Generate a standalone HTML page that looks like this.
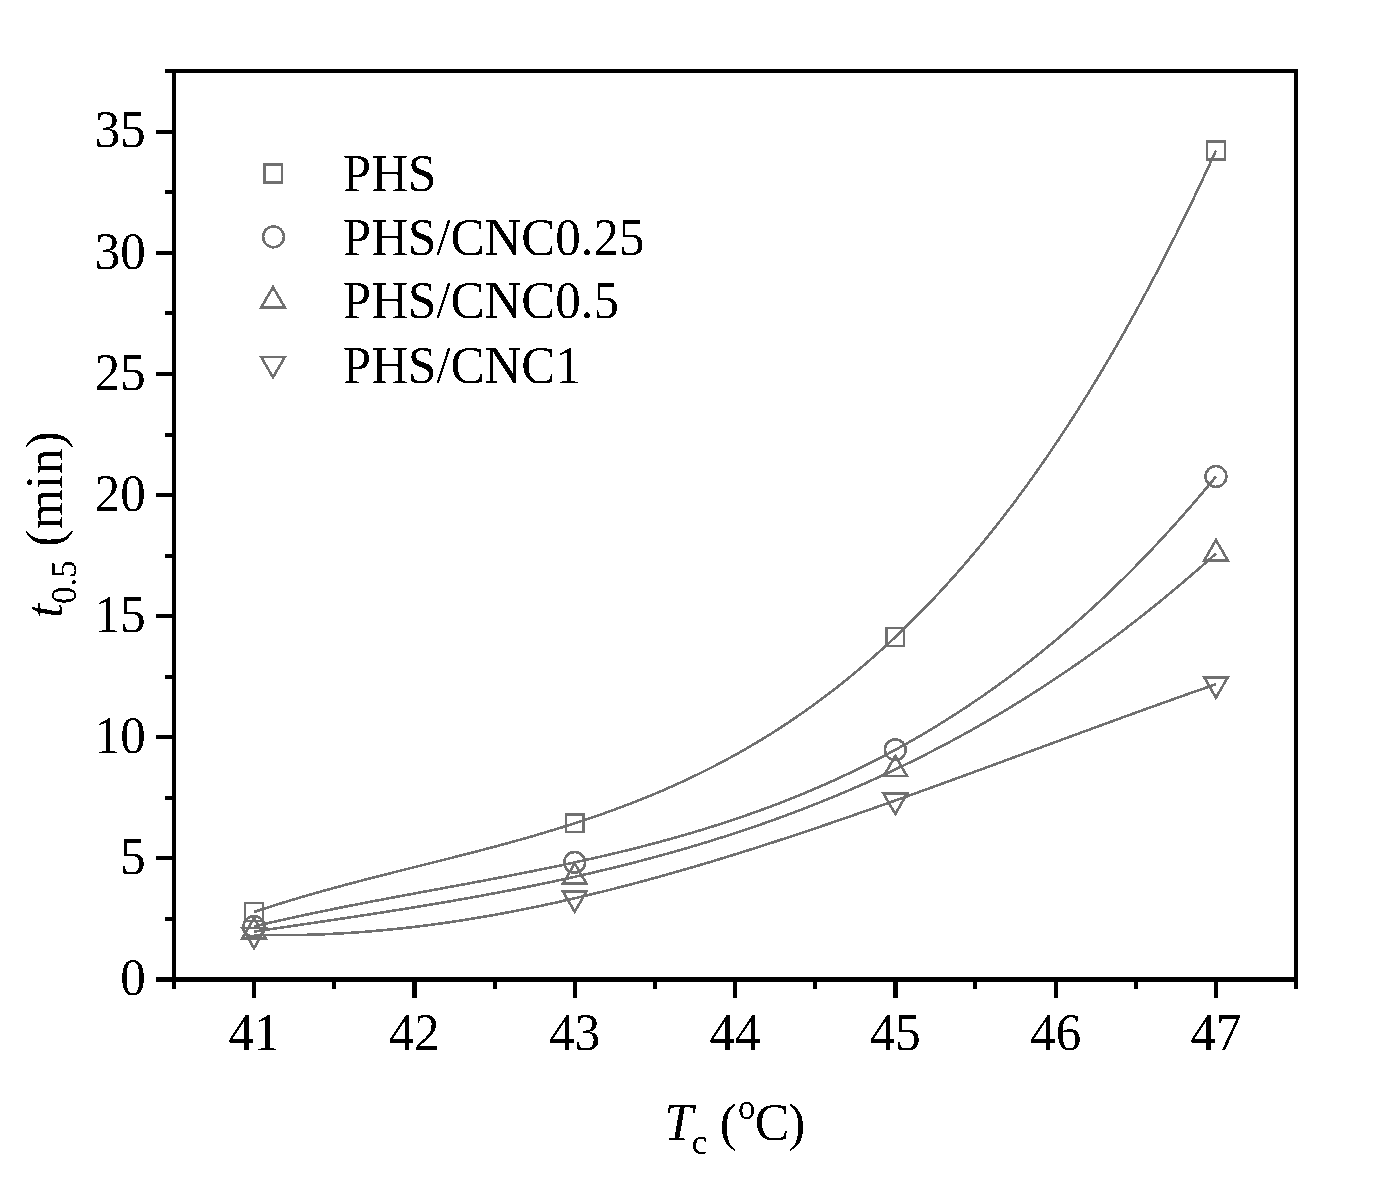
<!DOCTYPE html>
<html><head><meta charset="utf-8"><style>
html,body{margin:0;padding:0;background:#fff;}
svg{display:block;will-change:transform;}
text{font-family:"Liberation Serif",serif;fill:#000;}
.t{font-size:51px;}
.l{font-size:51px;}
.a{font-size:52px;}
.s{font-size:35px;}
.i{font-style:italic;}
</style></head><body>
<svg width="1373" height="1198" viewBox="0 0 1373 1198">
<rect width="1373" height="1198" fill="#fff"/>
<g fill="none" stroke="#707070" stroke-width="2.6" shape-rendering="crispEdges">
<path d="M254.00,912.00 L257.21,910.93 L260.41,909.87 L263.62,908.82 L266.83,907.78 L270.03,906.76 L273.24,905.74 L276.45,904.73 L279.65,903.72 L282.86,902.73 L286.07,901.75 L289.27,900.77 L292.48,899.81 L295.69,898.85 L298.89,897.90 L302.10,896.95 L305.31,896.02 L308.51,895.09 L311.72,894.17 L314.93,893.25 L318.13,892.34 L321.34,891.44 L324.55,890.55 L327.75,889.66 L330.96,888.77 L334.17,887.90 L337.37,887.02 L340.58,886.16 L343.78,885.29 L346.99,884.44 L350.20,883.58 L353.40,882.73 L356.61,881.89 L359.82,881.05 L363.02,880.21 L366.23,879.38 L369.44,878.55 L372.64,877.73 L375.85,876.90 L379.06,876.08 L382.26,875.27 L385.47,874.45 L388.68,873.64 L391.88,872.83 L395.09,872.02 L398.30,871.21 L401.50,870.40 L404.71,869.60 L407.92,868.79 L411.12,867.99 L414.33,867.19 L417.54,866.39 L420.74,865.58 L423.95,864.78 L427.16,863.98 L430.36,863.17 L433.57,862.37 L436.78,861.57 L439.98,860.76 L443.19,859.95 L446.40,859.15 L449.60,858.34 L452.81,857.52 L456.02,856.71 L459.22,855.89 L462.43,855.08 L465.64,854.26 L468.84,853.43 L472.05,852.60 L475.26,851.77 L478.46,850.94 L481.67,850.10 L484.88,849.26 L488.08,848.42 L491.29,847.57 L494.50,846.71 L497.70,845.85 L500.91,844.99 L504.11,844.12 L507.32,843.24 L510.53,842.36 L513.73,841.48 L516.94,840.59 L520.15,839.69 L523.35,838.79 L526.56,837.88 L529.77,836.96 L532.97,836.03 L536.18,835.10 L539.39,834.17 L542.59,833.22 L545.80,832.27 L549.01,831.30 L552.21,830.33 L555.42,829.36 L558.63,828.37 L561.83,827.37 L565.04,826.37 L568.25,825.36 L571.45,824.33 L574.66,823.30 L577.87,822.26 L581.07,821.21 L584.28,820.14 L587.49,819.07 L590.69,817.99 L593.90,816.89 L597.11,815.79 L600.31,814.67 L603.52,813.54 L606.73,812.40 L609.93,811.25 L613.14,810.09 L616.35,808.92 L619.55,807.73 L622.76,806.53 L625.97,805.32 L629.17,804.09 L632.38,802.85 L635.59,801.60 L638.79,800.33 L642.00,799.05 L645.21,797.76 L648.41,796.45 L651.62,795.13 L654.83,793.79 L658.03,792.44 L661.24,791.07 L664.44,789.69 L667.65,788.29 L670.86,786.88 L674.06,785.45 L677.27,784.00 L680.48,782.54 L683.68,781.06 L686.89,779.57 L690.10,778.06 L693.30,776.53 L696.51,774.98 L699.72,773.42 L702.92,771.84 L706.13,770.24 L709.34,768.62 L712.54,766.99 L715.75,765.33 L718.96,763.66 L722.16,761.97 L725.37,760.26 L728.58,758.53 L731.78,756.78 L734.99,755.01 L738.20,753.22 L741.40,751.42 L744.61,749.59 L747.82,747.74 L751.02,745.87 L754.23,743.98 L757.44,742.06 L760.64,740.13 L763.85,738.18 L767.06,736.20 L770.26,734.20 L773.47,732.18 L776.68,730.14 L779.88,728.07 L783.09,725.98 L786.30,723.87 L789.50,721.74 L792.71,719.58 L795.92,717.40 L799.12,715.19 L802.33,712.96 L805.54,710.71 L808.74,708.43 L811.95,706.13 L815.16,703.80 L818.36,701.45 L821.57,699.08 L824.77,696.67 L827.98,694.25 L831.19,691.79 L834.39,689.31 L837.60,686.81 L840.81,684.28 L844.01,681.72 L847.22,679.13 L850.43,676.52 L853.63,673.88 L856.84,671.21 L860.05,668.52 L863.25,665.80 L866.46,663.05 L869.67,660.27 L872.87,657.46 L876.08,654.62 L879.29,651.76 L882.49,648.87 L885.70,645.94 L888.91,642.99 L892.11,640.01 L895.32,637.00 L898.53,633.96 L901.73,630.89 L904.94,627.78 L908.15,624.65 L911.35,621.49 L914.56,618.29 L917.77,615.07 L920.97,611.81 L924.18,608.52 L927.39,605.20 L930.59,601.85 L933.80,598.46 L937.01,595.05 L940.21,591.60 L943.42,588.11 L946.63,584.60 L949.83,581.05 L953.04,577.47 L956.25,573.85 L959.45,570.20 L962.66,566.51 L965.87,562.80 L969.07,559.04 L972.28,555.26 L975.49,551.43 L978.69,547.58 L981.90,543.68 L985.10,539.75 L988.31,535.79 L991.52,531.79 L994.72,527.75 L997.93,523.68 L1001.14,519.57 L1004.34,515.43 L1007.55,511.24 L1010.76,507.02 L1013.96,502.77 L1017.17,498.47 L1020.38,494.14 L1023.58,489.77 L1026.79,485.36 L1030.00,480.91 L1033.20,476.43 L1036.41,471.91 L1039.62,467.34 L1042.82,462.74 L1046.03,458.10 L1049.24,453.42 L1052.44,448.70 L1055.65,443.94 L1058.86,439.14 L1062.06,434.30 L1065.27,429.41 L1068.48,424.49 L1071.68,419.53 L1074.89,414.52 L1078.10,409.48 L1081.30,404.39 L1084.51,399.26 L1087.72,394.09 L1090.92,388.88 L1094.13,383.62 L1097.34,378.32 L1100.54,372.98 L1103.75,367.60 L1106.96,362.17 L1110.16,356.70 L1113.37,351.19 L1116.58,345.63 L1119.78,340.03 L1122.99,334.38 L1126.20,328.69 L1129.40,322.95 L1132.61,317.17 L1135.82,311.35 L1139.02,305.48 L1142.23,299.56 L1145.43,293.60 L1148.64,287.59 L1151.85,281.54 L1155.05,275.44 L1158.26,269.30 L1161.47,263.10 L1164.67,256.86 L1167.88,250.58 L1171.09,244.24 L1174.29,237.86 L1177.50,231.43 L1180.71,224.96 L1183.91,218.43 L1187.12,211.86 L1190.33,205.24 L1193.53,198.57 L1196.74,191.85 L1199.95,185.08 L1203.15,178.27 L1206.36,171.40 L1209.57,164.48 L1212.77,157.52 L1215.98,150.50"/>
<path d="M254.00,926.50 L257.21,925.73 L260.41,924.97 L263.62,924.21 L266.83,923.46 L270.03,922.71 L273.24,921.98 L276.45,921.24 L279.65,920.51 L282.86,919.79 L286.07,919.07 L289.27,918.36 L292.48,917.66 L295.69,916.95 L298.89,916.26 L302.10,915.57 L305.31,914.88 L308.51,914.20 L311.72,913.52 L314.93,912.84 L318.13,912.17 L321.34,911.51 L324.55,910.85 L327.75,910.19 L330.96,909.54 L334.17,908.89 L337.37,908.24 L340.58,907.60 L343.78,906.96 L346.99,906.32 L350.20,905.69 L353.40,905.06 L356.61,904.43 L359.82,903.80 L363.02,903.18 L366.23,902.56 L369.44,901.95 L372.64,901.33 L375.85,900.72 L379.06,900.11 L382.26,899.50 L385.47,898.89 L388.68,898.29 L391.88,897.68 L395.09,897.08 L398.30,896.48 L401.50,895.88 L404.71,895.29 L407.92,894.69 L411.12,894.09 L414.33,893.50 L417.54,892.91 L420.74,892.31 L423.95,891.72 L427.16,891.13 L430.36,890.54 L433.57,889.94 L436.78,889.35 L439.98,888.76 L443.19,888.17 L446.40,887.58 L449.60,886.98 L452.81,886.39 L456.02,885.80 L459.22,885.20 L462.43,884.61 L465.64,884.01 L468.84,883.42 L472.05,882.82 L475.26,882.22 L478.46,881.62 L481.67,881.02 L484.88,880.41 L488.08,879.81 L491.29,879.20 L494.50,878.59 L497.70,877.98 L500.91,877.36 L504.11,876.75 L507.32,876.13 L510.53,875.51 L513.73,874.89 L516.94,874.26 L520.15,873.63 L523.35,873.00 L526.56,872.36 L529.77,871.73 L532.97,871.09 L536.18,870.44 L539.39,869.79 L542.59,869.14 L545.80,868.49 L549.01,867.83 L552.21,867.16 L555.42,866.50 L558.63,865.82 L561.83,865.15 L565.04,864.47 L568.25,863.78 L571.45,863.09 L574.66,862.40 L577.87,861.70 L581.07,861.00 L584.28,860.29 L587.49,859.57 L590.69,858.85 L593.90,858.13 L597.11,857.40 L600.31,856.66 L603.52,855.92 L606.73,855.17 L609.93,854.42 L613.14,853.66 L616.35,852.89 L619.55,852.12 L622.76,851.34 L625.97,850.56 L629.17,849.77 L632.38,848.97 L635.59,848.16 L638.79,847.35 L642.00,846.53 L645.21,845.70 L648.41,844.87 L651.62,844.03 L654.83,843.18 L658.03,842.32 L661.24,841.46 L664.44,840.59 L667.65,839.71 L670.86,838.82 L674.06,837.92 L677.27,837.02 L680.48,836.10 L683.68,835.18 L686.89,834.25 L690.10,833.31 L693.30,832.36 L696.51,831.41 L699.72,830.44 L702.92,829.46 L706.13,828.48 L709.34,827.48 L712.54,826.48 L715.75,825.47 L718.96,824.44 L722.16,823.41 L725.37,822.37 L728.58,821.31 L731.78,820.25 L734.99,819.18 L738.20,818.09 L741.40,817.00 L744.61,815.89 L747.82,814.77 L751.02,813.65 L754.23,812.51 L757.44,811.36 L760.64,810.20 L763.85,809.02 L767.06,807.84 L770.26,806.65 L773.47,805.44 L776.68,804.22 L779.88,802.99 L783.09,801.75 L786.30,800.49 L789.50,799.22 L792.71,797.94 L795.92,796.65 L799.12,795.35 L802.33,794.03 L805.54,792.70 L808.74,791.36 L811.95,790.00 L815.16,788.63 L818.36,787.25 L821.57,785.85 L824.77,784.45 L827.98,783.02 L831.19,781.59 L834.39,780.14 L837.60,778.67 L840.81,777.19 L844.01,775.70 L847.22,774.19 L850.43,772.67 L853.63,771.14 L856.84,769.59 L860.05,768.02 L863.25,766.44 L866.46,764.85 L869.67,763.24 L872.87,761.61 L876.08,759.97 L879.29,758.31 L882.49,756.64 L885.70,754.96 L888.91,753.25 L892.11,751.53 L895.32,749.80 L898.53,748.05 L901.73,746.28 L904.94,744.50 L908.15,742.70 L911.35,740.88 L914.56,739.05 L917.77,737.20 L920.97,735.34 L924.18,733.45 L927.39,731.55 L930.59,729.64 L933.80,727.70 L937.01,725.75 L940.21,723.78 L943.42,721.79 L946.63,719.79 L949.83,717.76 L953.04,715.72 L956.25,713.66 L959.45,711.59 L962.66,709.49 L965.87,707.38 L969.07,705.24 L972.28,703.09 L975.49,700.92 L978.69,698.73 L981.90,696.53 L985.10,694.30 L988.31,692.05 L991.52,689.79 L994.72,687.50 L997.93,685.20 L1001.14,682.88 L1004.34,680.53 L1007.55,678.17 L1010.76,675.78 L1013.96,673.38 L1017.17,670.96 L1020.38,668.51 L1023.58,666.05 L1026.79,663.56 L1030.00,661.06 L1033.20,658.53 L1036.41,655.98 L1039.62,653.41 L1042.82,650.82 L1046.03,648.21 L1049.24,645.58 L1052.44,642.93 L1055.65,640.25 L1058.86,637.55 L1062.06,634.83 L1065.27,632.09 L1068.48,629.33 L1071.68,626.55 L1074.89,623.74 L1078.10,620.91 L1081.30,618.06 L1084.51,615.18 L1087.72,612.28 L1090.92,609.36 L1094.13,606.42 L1097.34,603.46 L1100.54,600.47 L1103.75,597.45 L1106.96,594.42 L1110.16,591.36 L1113.37,588.28 L1116.58,585.17 L1119.78,582.04 L1122.99,578.89 L1126.20,575.71 L1129.40,572.50 L1132.61,569.28 L1135.82,566.03 L1139.02,562.75 L1142.23,559.45 L1145.43,556.13 L1148.64,552.78 L1151.85,549.40 L1155.05,546.00 L1158.26,542.58 L1161.47,539.13 L1164.67,535.65 L1167.88,532.15 L1171.09,528.62 L1174.29,525.07 L1177.50,521.49 L1180.71,517.89 L1183.91,514.26 L1187.12,510.60 L1190.33,506.92 L1193.53,503.21 L1196.74,499.48 L1199.95,495.71 L1203.15,491.92 L1206.36,488.11 L1209.57,484.27 L1212.77,480.40 L1215.98,476.50"/>
<path d="M254.00,931.60 L257.21,931.13 L260.41,930.66 L263.62,930.19 L266.83,929.72 L270.03,929.25 L273.24,928.78 L276.45,928.31 L279.65,927.84 L282.86,927.36 L286.07,926.89 L289.27,926.42 L292.48,925.95 L295.69,925.48 L298.89,925.01 L302.10,924.54 L305.31,924.06 L308.51,923.59 L311.72,923.12 L314.93,922.64 L318.13,922.16 L321.34,921.69 L324.55,921.21 L327.75,920.73 L330.96,920.25 L334.17,919.77 L337.37,919.29 L340.58,918.81 L343.78,918.33 L346.99,917.84 L350.20,917.36 L353.40,916.87 L356.61,916.38 L359.82,915.89 L363.02,915.40 L366.23,914.91 L369.44,914.41 L372.64,913.91 L375.85,913.42 L379.06,912.92 L382.26,912.41 L385.47,911.91 L388.68,911.40 L391.88,910.90 L395.09,910.39 L398.30,909.88 L401.50,909.36 L404.71,908.84 L407.92,908.33 L411.12,907.80 L414.33,907.28 L417.54,906.76 L420.74,906.23 L423.95,905.70 L427.16,905.16 L430.36,904.63 L433.57,904.09 L436.78,903.54 L439.98,903.00 L443.19,902.45 L446.40,901.90 L449.60,901.35 L452.81,900.79 L456.02,900.23 L459.22,899.67 L462.43,899.10 L465.64,898.53 L468.84,897.96 L472.05,897.38 L475.26,896.80 L478.46,896.22 L481.67,895.63 L484.88,895.04 L488.08,894.45 L491.29,893.85 L494.50,893.25 L497.70,892.64 L500.91,892.03 L504.11,891.42 L507.32,890.80 L510.53,890.18 L513.73,889.55 L516.94,888.92 L520.15,888.29 L523.35,887.65 L526.56,887.01 L529.77,886.36 L532.97,885.71 L536.18,885.05 L539.39,884.39 L542.59,883.72 L545.80,883.05 L549.01,882.38 L552.21,881.70 L555.42,881.01 L558.63,880.32 L561.83,879.63 L565.04,878.93 L568.25,878.23 L571.45,877.52 L574.66,876.80 L577.87,876.08 L581.07,875.35 L584.28,874.62 L587.49,873.89 L590.69,873.14 L593.90,872.40 L597.11,871.64 L600.31,870.88 L603.52,870.12 L606.73,869.35 L609.93,868.57 L613.14,867.79 L616.35,867.00 L619.55,866.21 L622.76,865.41 L625.97,864.60 L629.17,863.79 L632.38,862.97 L635.59,862.15 L638.79,861.32 L642.00,860.48 L645.21,859.64 L648.41,858.79 L651.62,857.93 L654.83,857.06 L658.03,856.19 L661.24,855.32 L664.44,854.43 L667.65,853.54 L670.86,852.65 L674.06,851.74 L677.27,850.83 L680.48,849.91 L683.68,848.99 L686.89,848.05 L690.10,847.11 L693.30,846.17 L696.51,845.21 L699.72,844.25 L702.92,843.28 L706.13,842.31 L709.34,841.32 L712.54,840.33 L715.75,839.33 L718.96,838.32 L722.16,837.31 L725.37,836.28 L728.58,835.25 L731.78,834.22 L734.99,833.17 L738.20,832.11 L741.40,831.05 L744.61,829.98 L747.82,828.90 L751.02,827.81 L754.23,826.72 L757.44,825.61 L760.64,824.50 L763.85,823.38 L767.06,822.25 L770.26,821.11 L773.47,819.96 L776.68,818.81 L779.88,817.64 L783.09,816.47 L786.30,815.29 L789.50,814.10 L792.71,812.90 L795.92,811.69 L799.12,810.47 L802.33,809.24 L805.54,808.00 L808.74,806.76 L811.95,805.50 L815.16,804.24 L818.36,802.96 L821.57,801.68 L824.77,800.39 L827.98,799.08 L831.19,797.77 L834.39,796.45 L837.60,795.12 L840.81,793.77 L844.01,792.42 L847.22,791.06 L850.43,789.69 L853.63,788.31 L856.84,786.91 L860.05,785.51 L863.25,784.10 L866.46,782.68 L869.67,781.24 L872.87,779.80 L876.08,778.35 L879.29,776.88 L882.49,775.41 L885.70,773.92 L888.91,772.43 L892.11,770.92 L895.32,769.40 L898.53,767.87 L901.73,766.33 L904.94,764.78 L908.15,763.22 L911.35,761.65 L914.56,760.06 L917.77,758.47 L920.97,756.86 L924.18,755.24 L927.39,753.61 L930.59,751.97 L933.80,750.32 L937.01,748.66 L940.21,746.98 L943.42,745.30 L946.63,743.60 L949.83,741.89 L953.04,740.17 L956.25,738.43 L959.45,736.69 L962.66,734.93 L965.87,733.16 L969.07,731.38 L972.28,729.59 L975.49,727.78 L978.69,725.96 L981.90,724.13 L985.10,722.29 L988.31,720.43 L991.52,718.57 L994.72,716.69 L997.93,714.79 L1001.14,712.89 L1004.34,710.97 L1007.55,709.04 L1010.76,707.09 L1013.96,705.14 L1017.17,703.17 L1020.38,701.19 L1023.58,699.19 L1026.79,697.18 L1030.00,695.16 L1033.20,693.13 L1036.41,691.08 L1039.62,689.02 L1042.82,686.94 L1046.03,684.85 L1049.24,682.75 L1052.44,680.64 L1055.65,678.51 L1058.86,676.36 L1062.06,674.21 L1065.27,672.04 L1068.48,669.85 L1071.68,667.66 L1074.89,665.44 L1078.10,663.22 L1081.30,660.98 L1084.51,658.73 L1087.72,656.46 L1090.92,654.18 L1094.13,651.88 L1097.34,649.57 L1100.54,647.24 L1103.75,644.90 L1106.96,642.55 L1110.16,640.18 L1113.37,637.80 L1116.58,635.40 L1119.78,632.99 L1122.99,630.56 L1126.20,628.12 L1129.40,625.66 L1132.61,623.19 L1135.82,620.70 L1139.02,618.20 L1142.23,615.69 L1145.43,613.15 L1148.64,610.61 L1151.85,608.04 L1155.05,605.47 L1158.26,602.87 L1161.47,600.26 L1164.67,597.64 L1167.88,595.00 L1171.09,592.34 L1174.29,589.67 L1177.50,586.99 L1180.71,584.28 L1183.91,581.57 L1187.12,578.83 L1190.33,576.08 L1193.53,573.32 L1196.74,570.53 L1199.95,567.73 L1203.15,564.92 L1206.36,562.09 L1209.57,559.24 L1212.77,556.38 L1215.98,553.50"/>
<path d="M254.00,934.80 L257.21,934.88 L260.41,934.95 L263.62,935.01 L266.83,935.05 L270.03,935.09 L273.24,935.12 L276.45,935.14 L279.65,935.14 L282.86,935.14 L286.07,935.13 L289.27,935.11 L292.48,935.07 L295.69,935.03 L298.89,934.98 L302.10,934.92 L305.31,934.84 L308.51,934.76 L311.72,934.67 L314.93,934.57 L318.13,934.46 L321.34,934.34 L324.55,934.21 L327.75,934.07 L330.96,933.92 L334.17,933.76 L337.37,933.60 L340.58,933.42 L343.78,933.23 L346.99,933.04 L350.20,932.83 L353.40,932.62 L356.61,932.40 L359.82,932.17 L363.02,931.93 L366.23,931.68 L369.44,931.42 L372.64,931.15 L375.85,930.87 L379.06,930.59 L382.26,930.30 L385.47,929.99 L388.68,929.68 L391.88,929.36 L395.09,929.03 L398.30,928.70 L401.50,928.35 L404.71,928.00 L407.92,927.64 L411.12,927.27 L414.33,926.89 L417.54,926.50 L420.74,926.11 L423.95,925.70 L427.16,925.29 L430.36,924.87 L433.57,924.44 L436.78,924.01 L439.98,923.56 L443.19,923.11 L446.40,922.65 L449.60,922.19 L452.81,921.71 L456.02,921.23 L459.22,920.74 L462.43,920.24 L465.64,919.73 L468.84,919.22 L472.05,918.70 L475.26,918.17 L478.46,917.63 L481.67,917.09 L484.88,916.54 L488.08,915.98 L491.29,915.42 L494.50,914.84 L497.70,914.26 L500.91,913.68 L504.11,913.08 L507.32,912.48 L510.53,911.87 L513.73,911.26 L516.94,910.64 L520.15,910.01 L523.35,909.37 L526.56,908.73 L529.77,908.08 L532.97,907.42 L536.18,906.76 L539.39,906.09 L542.59,905.41 L545.80,904.73 L549.01,904.04 L552.21,903.35 L555.42,902.65 L558.63,901.94 L561.83,901.22 L565.04,900.50 L568.25,899.77 L571.45,899.04 L574.66,898.30 L577.87,897.55 L581.07,896.80 L584.28,896.04 L587.49,895.28 L590.69,894.51 L593.90,893.73 L597.11,892.95 L600.31,892.16 L603.52,891.37 L606.73,890.57 L609.93,889.77 L613.14,888.96 L616.35,888.14 L619.55,887.32 L622.76,886.49 L625.97,885.66 L629.17,884.82 L632.38,883.98 L635.59,883.13 L638.79,882.27 L642.00,881.41 L645.21,880.55 L648.41,879.68 L651.62,878.81 L654.83,877.92 L658.03,877.04 L661.24,876.15 L664.44,875.25 L667.65,874.35 L670.86,873.45 L674.06,872.54 L677.27,871.62 L680.48,870.71 L683.68,869.78 L686.89,868.85 L690.10,867.92 L693.30,866.98 L696.51,866.04 L699.72,865.09 L702.92,864.14 L706.13,863.18 L709.34,862.22 L712.54,861.26 L715.75,860.29 L718.96,859.32 L722.16,858.34 L725.37,857.36 L728.58,856.37 L731.78,855.38 L734.99,854.39 L738.20,853.39 L741.40,852.39 L744.61,851.38 L747.82,850.37 L751.02,849.36 L754.23,848.34 L757.44,847.32 L760.64,846.30 L763.85,845.27 L767.06,844.24 L770.26,843.20 L773.47,842.16 L776.68,841.12 L779.88,840.07 L783.09,839.03 L786.30,837.97 L789.50,836.92 L792.71,835.86 L795.92,834.80 L799.12,833.73 L802.33,832.66 L805.54,831.59 L808.74,830.51 L811.95,829.44 L815.16,828.36 L818.36,827.27 L821.57,826.19 L824.77,825.10 L827.98,824.00 L831.19,822.91 L834.39,821.81 L837.60,820.71 L840.81,819.61 L844.01,818.50 L847.22,817.40 L850.43,816.28 L853.63,815.17 L856.84,814.06 L860.05,812.94 L863.25,811.82 L866.46,810.70 L869.67,809.57 L872.87,808.45 L876.08,807.32 L879.29,806.19 L882.49,805.05 L885.70,803.92 L888.91,802.78 L892.11,801.64 L895.32,800.50 L898.53,799.36 L901.73,798.21 L904.94,797.07 L908.15,795.92 L911.35,794.77 L914.56,793.62 L917.77,792.46 L920.97,791.31 L924.18,790.15 L927.39,789.00 L930.59,787.84 L933.80,786.68 L937.01,785.52 L940.21,784.35 L943.42,783.19 L946.63,782.02 L949.83,780.86 L953.04,779.69 L956.25,778.52 L959.45,777.35 L962.66,776.18 L965.87,775.01 L969.07,773.84 L972.28,772.66 L975.49,771.49 L978.69,770.31 L981.90,769.14 L985.10,767.96 L988.31,766.78 L991.52,765.61 L994.72,764.43 L997.93,763.25 L1001.14,762.07 L1004.34,760.89 L1007.55,759.71 L1010.76,758.53 L1013.96,757.35 L1017.17,756.17 L1020.38,754.98 L1023.58,753.80 L1026.79,752.62 L1030.00,751.44 L1033.20,750.26 L1036.41,749.08 L1039.62,747.89 L1042.82,746.71 L1046.03,745.53 L1049.24,744.35 L1052.44,743.17 L1055.65,741.99 L1058.86,740.81 L1062.06,739.63 L1065.27,738.45 L1068.48,737.27 L1071.68,736.09 L1074.89,734.91 L1078.10,733.73 L1081.30,732.55 L1084.51,731.38 L1087.72,730.20 L1090.92,729.03 L1094.13,727.85 L1097.34,726.68 L1100.54,725.50 L1103.75,724.33 L1106.96,723.16 L1110.16,721.99 L1113.37,720.82 L1116.58,719.65 L1119.78,718.49 L1122.99,717.32 L1126.20,716.16 L1129.40,714.99 L1132.61,713.83 L1135.82,712.67 L1139.02,711.51 L1142.23,710.35 L1145.43,709.19 L1148.64,708.04 L1151.85,706.89 L1155.05,705.73 L1158.26,704.58 L1161.47,703.43 L1164.67,702.29 L1167.88,701.14 L1171.09,700.00 L1174.29,698.86 L1177.50,697.72 L1180.71,696.58 L1183.91,695.44 L1187.12,694.31 L1190.33,693.18 L1193.53,692.05 L1196.74,690.92 L1199.95,689.79 L1203.15,688.67 L1206.36,687.55 L1209.57,686.43 L1212.77,685.31 L1215.98,684.20"/>
</g>
<g fill="none" stroke="#707070" stroke-width="2.6" shape-rendering="crispEdges">
<rect x="245.15" y="903.15" width="17.70" height="17.70"/>
<rect x="565.81" y="814.45" width="17.70" height="17.70"/>
<rect x="886.47" y="628.15" width="17.70" height="17.70"/>
<rect x="1207.13" y="141.65" width="17.70" height="17.70"/>
<circle cx="254.00" cy="926.50" r="10.4"/>
<circle cx="574.66" cy="862.40" r="10.4"/>
<circle cx="895.32" cy="749.80" r="10.4"/>
<circle cx="1215.98" cy="476.50" r="10.4"/>
<polygon points="254.00,918.10 242.31,938.35 265.69,938.35"/>
<polygon points="574.66,863.30 562.97,883.55 586.35,883.55"/>
<polygon points="895.32,755.90 883.63,776.15 907.01,776.15"/>
<polygon points="1215.98,540.00 1204.29,560.25 1227.67,560.25"/>
<polygon points="254.00,948.30 242.31,928.05 265.69,928.05"/>
<polygon points="574.66,911.80 562.97,891.55 586.35,891.55"/>
<polygon points="895.32,814.00 883.63,793.75 907.01,793.75"/>
<polygon points="1215.98,697.70 1204.29,677.45 1227.67,677.45"/>
<rect x="264.35" y="164.60" width="17.70" height="17.70"/>
<circle cx="273.50" cy="236.90" r="10.4"/>
<polygon points="273.00,287.10 261.31,307.35 284.69,307.35"/>
<polygon points="273.00,377.40 261.31,357.15 284.69,357.15"/>
</g>
<g fill="#000" shape-rendering="crispEdges">
<rect x="172" y="69" width="1126" height="4"/>
<rect x="172" y="69" width="4" height="920"/>
<rect x="1294" y="69" width="4" height="920"/>
<rect x="156" y="977.2" width="1142" height="4.6"/>
<rect x="165" y="69" width="8" height="4"/>
<rect x="156" y="977.50" width="17" height="4"/>
<rect x="165" y="916.95" width="8" height="4"/>
<rect x="156" y="856.40" width="17" height="4"/>
<rect x="165" y="795.85" width="8" height="4"/>
<rect x="156" y="735.30" width="17" height="4"/>
<rect x="165" y="674.75" width="8" height="4"/>
<rect x="156" y="614.20" width="17" height="4"/>
<rect x="165" y="553.65" width="8" height="4"/>
<rect x="156" y="493.10" width="17" height="4"/>
<rect x="165" y="432.55" width="8" height="4"/>
<rect x="156" y="372.00" width="17" height="4"/>
<rect x="165" y="311.45" width="8" height="4"/>
<rect x="156" y="250.90" width="17" height="4"/>
<rect x="165" y="190.35" width="8" height="4"/>
<rect x="156" y="129.80" width="17" height="4"/>
<rect x="165" y="69.25" width="8" height="4"/>
<rect x="171.83" y="980" width="4" height="8.9"/>
<rect x="251.90" y="980" width="4.3" height="17.7"/>
<rect x="332.17" y="980" width="4" height="8.9"/>
<rect x="412.23" y="980" width="4.3" height="17.7"/>
<rect x="492.50" y="980" width="4" height="8.9"/>
<rect x="572.56" y="980" width="4.3" height="17.7"/>
<rect x="652.83" y="980" width="4" height="8.9"/>
<rect x="732.89" y="980" width="4.3" height="17.7"/>
<rect x="813.16" y="980" width="4" height="8.9"/>
<rect x="893.22" y="980" width="4.3" height="17.7"/>
<rect x="973.49" y="980" width="4" height="8.9"/>
<rect x="1053.55" y="980" width="4.3" height="17.7"/>
<rect x="1133.82" y="980" width="4" height="8.9"/>
<rect x="1213.88" y="980" width="4.3" height="17.7"/>
<rect x="1294.14" y="980" width="4" height="8.9"/>
</g>
<defs><filter id="th" x="0" y="0" width="1373" height="1198" filterUnits="userSpaceOnUse"><feComponentTransfer><feFuncA type="discrete" tableValues="0 1"/></feComponentTransfer></filter></defs>
<g filter="url(#th)">
<text transform="translate(145.8,995.10) scale(1,1.025)" text-anchor="end" class="t">0</text>
<text transform="translate(145.8,874.00) scale(1,1.025)" text-anchor="end" class="t">5</text>
<text transform="translate(145.8,752.90) scale(1,1.025)" text-anchor="end" class="t">10</text>
<text transform="translate(145.8,631.80) scale(1,1.025)" text-anchor="end" class="t">15</text>
<text transform="translate(145.8,510.70) scale(1,1.025)" text-anchor="end" class="t">20</text>
<text transform="translate(145.8,389.60) scale(1,1.025)" text-anchor="end" class="t">25</text>
<text transform="translate(145.8,268.50) scale(1,1.025)" text-anchor="end" class="t">30</text>
<text transform="translate(145.8,147.40) scale(1,1.025)" text-anchor="end" class="t">35</text>
<text transform="translate(254.00,1049.7) scale(1,1.025)" text-anchor="middle" class="t">41</text>
<text transform="translate(414.33,1049.7) scale(1,1.025)" text-anchor="middle" class="t">42</text>
<text transform="translate(574.66,1049.7) scale(1,1.025)" text-anchor="middle" class="t">43</text>
<text transform="translate(734.99,1049.7) scale(1,1.025)" text-anchor="middle" class="t">44</text>
<text transform="translate(895.32,1049.7) scale(1,1.025)" text-anchor="middle" class="t">45</text>
<text transform="translate(1055.65,1049.7) scale(1,1.025)" text-anchor="middle" class="t">46</text>
<text transform="translate(1215.98,1049.7) scale(1,1.025)" text-anchor="middle" class="t">47</text>
<text transform="translate(342.8,191.1) scale(1,1.025)" class="l">PHS</text>
<text transform="translate(342.8,255.2) scale(1,1.025)" class="l">PHS/CNC0.25</text>
<text transform="translate(342.8,318.1) scale(1,1.025)" class="l">PHS/CNC0.5</text>
<text transform="translate(342.8,383.0) scale(1,1.025)" class="l">PHS/CNC1</text>
<text x="664.3" y="1140" class="a i">T</text>
<text x="691.7" y="1153.5" class="s">c</text>
<text x="719.8" y="1140" class="a">(</text>
<text x="737.9" y="1118.5" class="s">o</text>
<text x="754.7" y="1140" class="a">C</text>
<text x="788" y="1140" class="a">)</text>
<g transform="rotate(-90)">
<text x="-617.9" y="61.5" class="a i">t</text>
<text x="-604" y="75.7" class="s">0.5</text>
<text x="-546.7" y="62" class="a">(min)</text>
</g>
</g>
</svg>
</body></html>
